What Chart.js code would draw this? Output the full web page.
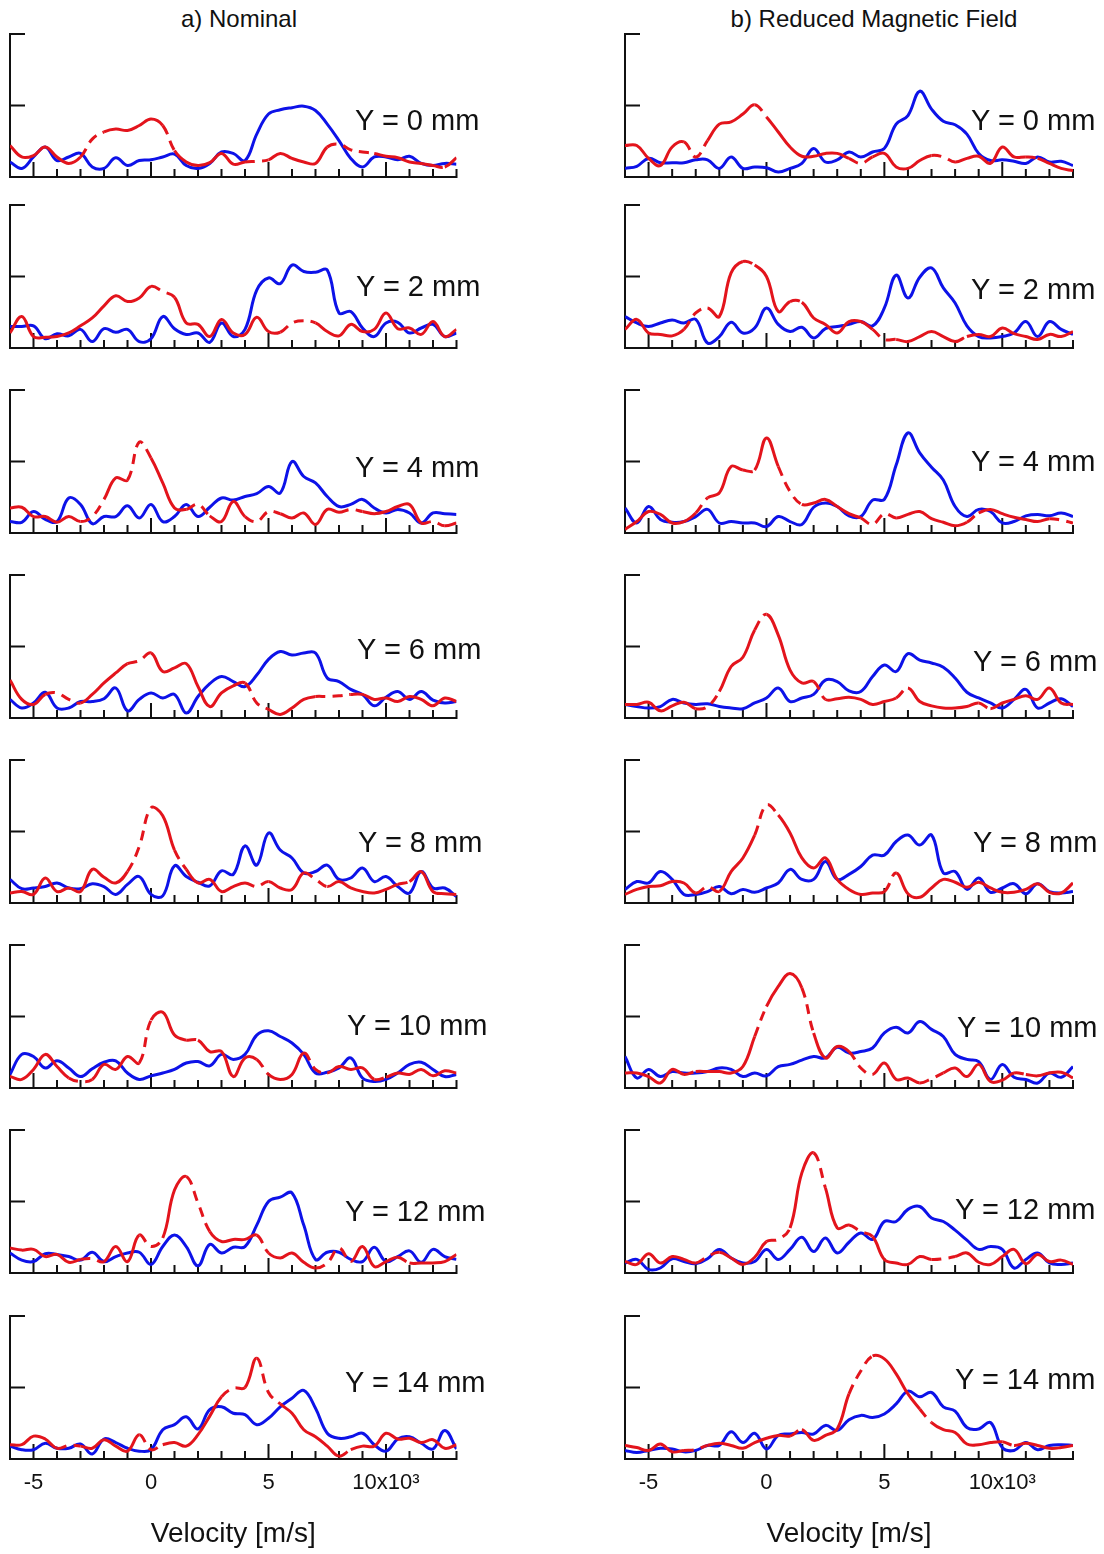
<!DOCTYPE html>
<html>
<head>
<meta charset="utf-8">
<script src="https://cdn.jsdelivr.net/npm/chart.js@4.4.1/dist/chart.umd.min.js"></script>
<style>
  html, body { margin: 0; padding: 0; background: #fff; }
  body { position: relative; width: 1104px; height: 1554px; overflow: hidden;
         font-family: "Liberation Sans", Arial, sans-serif; color: #111; }
  canvas { position: absolute; }
  .txt { position: absolute; white-space: nowrap; line-height: 1; transform: translateY(-50%); }
  .head { font-size: 24px; transform: translate(-50%, -50%); }
  .ylab { font-size: 29px; }
</style>
</head>
<body>
<script>
// Velocity grid (x10^3 m/s)
const velocity = [-6, -5.5, -5, -4.5, -4, -3.5, -3, -2.5, -2, -1.5, -1, -0.5, 0, 0.5, 1, 1.5, 2, 2.5, 3, 3.5,
                  4, 4.5, 5, 5.5, 6, 6.5, 7, 7.5, 8, 8.5, 9, 9.5, 10, 10.5, 11, 11.5, 12, 12.5, 13];
const tickValues = [-5, 0, 5, 10];
const tickLabels = ['-5', '0', '5', '10x10\u00B3'];
const positionsMm = [0, 2, 4, 6, 8, 10, 12, 14];

// a) Nominal
const nominalBlue0 = [.21,.12,.28,.42,.23,.28,.33,.14,.12,.27,.16,.23,.24,.28,.32,.16,.12,.19,.35,.33,.23,.60,.88,.94,.97,.99,.93,.74,.51,.26,.14,.28,.28,.24,.29,.19,.16,.19,.18];
const nominalRed0  = [.44,.28,.30,.42,.28,.19,.28,.53,.63,.67,.65,.72,.81,.72,.37,.21,.16,.20,.33,.18,.21,.22,.24,.33,.26,.21,.19,.42,.46,.38,.35,.33,.29,.27,.21,.19,.16,.14,.27];
const nominalBlue2 = [.30,.30,.31,.13,.20,.17,.26,.09,.27,.22,.26,.09,.13,.44,.27,.19,.21,.08,.35,.16,.26,.81,.98,.90,1.16,1.07,1.06,1.09,.49,.51,.28,.16,.35,.36,.21,.28,.33,.16,.21];
const nominalRed2  = [.21,.44,.16,.15,.16,.21,.31,.42,.59,.73,.65,.70,.86,.79,.71,.35,.33,.16,.40,.21,.19,.43,.23,.22,.35,.38,.35,.23,.17,.33,.23,.26,.49,.27,.28,.19,.37,.16,.26];
const nominalBlue4 = [.16,.15,.30,.19,.16,.49,.40,.13,.23,.23,.38,.21,.40,.16,.23,.40,.23,.36,.49,.46,.51,.55,.65,.56,1.00,.79,.70,.51,.37,.40,.47,.35,.28,.33,.28,.14,.28,.27,.26];
const nominalRed4  = [.35,.36,.23,.23,.15,.23,.16,.23,.47,.77,.74,1.27,1.05,.70,.35,.33,.40,.24,.16,.44,.23,.16,.30,.27,.21,.28,.12,.33,.29,.33,.30,.27,.30,.37,.40,.14,.16,.10,.14];
const nominalBlue6 = [.26,.14,.21,.36,.14,.14,.23,.23,.27,.42,.10,.26,.35,.28,.33,.07,.30,.48,.58,.51,.44,.60,.82,.93,.88,.91,.91,.56,.51,.40,.33,.17,.29,.37,.26,.37,.25,.21,.23];
const nominalRed6  = [.53,.26,.19,.33,.35,.26,.21,.33,.49,.63,.76,.80,.91,.65,.70,.76,.44,.16,.35,.45,.49,.21,.12,.05,.14,.26,.30,.30,.31,.33,.33,.26,.28,.23,.30,.26,.17,.28,.23];
const nominalBlue8 = [.33,.20,.21,.23,.28,.21,.20,.27,.23,.12,.26,.37,.12,.10,.52,.37,.29,.24,.45,.40,.80,.53,.98,.74,.63,.42,.44,.53,.33,.35,.49,.30,.37,.23,.14,.44,.21,.21,.09];
const nominalRed8  = [.14,.16,.12,.35,.16,.21,.16,.47,.36,.28,.44,.79,1.33,1.22,.74,.47,.28,.33,.16,.23,.28,.23,.30,.21,.19,.42,.33,.23,.30,.21,.16,.14,.19,.26,.30,.44,.16,.13,.12];
const nominalBlue10 = [.19,.47,.44,.28,.38,.28,.16,.27,.36,.38,.21,.12,.17,.21,.26,.35,.37,.31,.47,.40,.47,.74,.80,.72,.63,.47,.21,.22,.28,.42,.14,.09,.12,.21,.33,.36,.26,.16,.19];
const nominalRed10  = [.16,.12,.26,.47,.30,.14,.09,.12,.33,.26,.44,.35,.95,1.06,.74,.67,.67,.51,.51,.16,.42,.40,.19,.12,.19,.49,.26,.21,.30,.26,.28,.12,.15,.21,.19,.26,.17,.24,.21];
const nominalBlue12 = [.28,.18,.16,.27,.26,.23,.18,.29,.16,.23,.28,.29,.12,.37,.53,.37,.10,.40,.28,.36,.37,.67,1.00,1.06,1.12,.67,.19,.29,.29,.19,.16,.36,.16,.23,.31,.15,.33,.23,.19];
const nominalRed12  = [.35,.32,.33,.23,.26,.15,.19,.20,.16,.37,.16,.53,.37,.49,1.16,1.35,.98,.58,.44,.47,.47,.53,.28,.21,.28,.15,.07,.14,.35,.16,.37,.09,.16,.22,.14,.14,.14,.16,.26];
const nominalBlue14 = [.18,.13,.13,.22,.15,.15,.21,.07,.28,.23,.15,.11,.13,.41,.48,.59,.42,.69,.73,.64,.62,.48,.57,.73,.85,.96,.71,.36,.29,.31,.36,.20,.11,.28,.31,.22,.14,.40,.14];
const nominalRed14  = [.20,.20,.32,.28,.15,.19,.18,.15,.27,.18,.11,.34,.13,.20,.23,.18,.34,.60,.87,.99,1.00,1.41,.93,.77,.64,.41,.31,.18,.04,.13,.18,.18,.36,.28,.29,.23,.27,.15,.20];

// b) Reduced magnetic field
const reducedBlue0 = [.12,.15,.26,.20,.20,.20,.24,.24,.12,.28,.12,.14,.13,.07,.12,.19,.40,.21,.24,.35,.28,.35,.40,.74,.86,1.20,.95,.78,.73,.60,.33,.23,.24,.22,.19,.28,.21,.22,.16];
const reducedRed0  = [.44,.44,.26,.16,.42,.49,.28,.51,.74,.77,.88,1.01,.84,.63,.42,.29,.29,.33,.33,.26,.19,.28,.33,.14,.12,.23,.30,.28,.21,.26,.29,.19,.42,.28,.28,.26,.19,.12,.09];
const reducedBlue2 = [.44,.35,.30,.35,.39,.35,.40,.07,.16,.36,.21,.28,.56,.33,.23,.29,.14,.27,.30,.33,.37,.31,.56,1.02,.70,.99,1.12,.84,.63,.31,.16,.14,.16,.21,.37,.16,.37,.26,.19];
const reducedRed2  = [.26,.40,.21,.19,.17,.26,.49,.56,.44,1.05,1.21,1.16,1.00,.51,.65,.64,.42,.33,.21,.37,.37,.26,.12,.12,.09,.16,.23,.16,.09,.16,.19,.16,.28,.20,.16,.12,.19,.16,.23];
const reducedBlue4 = [.35,.14,.37,.19,.15,.16,.23,.33,.14,.16,.14,.14,.09,.23,.16,.12,.36,.42,.37,.24,.23,.46,.47,.95,1.40,1.12,.92,.74,.37,.23,.33,.30,.14,.16,.24,.26,.24,.28,.23];
const reducedRed4  = [.05,.16,.30,.26,.14,.16,.28,.49,.56,.93,.88,.88,1.33,.93,.58,.40,.42,.47,.37,.27,.21,.12,.27,.21,.26,.30,.20,.15,.10,.15,.28,.33,.27,.22,.19,.16,.20,.18,.14];
const reducedBlue6 = [.19,.16,.14,.16,.26,.21,.19,.20,.16,.14,.13,.21,.28,.42,.23,.28,.33,.53,.51,.38,.37,.58,.74,.65,.90,.81,.77,.71,.56,.36,.28,.21,.14,.26,.40,.14,.21,.27,.16];
const reducedRed6  = [.19,.19,.22,.10,.17,.22,.13,.16,.37,.72,.85,1.23,1.45,1.16,.67,.49,.51,.26,.27,.29,.26,.19,.23,.28,.42,.23,.17,.14,.14,.16,.21,.13,.21,.26,.31,.26,.42,.21,.19];
const reducedBlue8 = [.19,.30,.28,.44,.33,.12,.12,.16,.23,.13,.19,.15,.21,.28,.47,.33,.33,.58,.33,.40,.51,.67,.67,.86,.95,.81,.95,.42,.44,.19,.35,.15,.21,.27,.13,.27,.16,.14,.16];
const reducedRed8  = [.12,.19,.23,.24,.30,.28,.14,.23,.16,.44,.63,.95,1.37,1.23,.98,.63,.49,.63,.33,.19,.12,.14,.16,.42,.13,.08,.21,.33,.29,.22,.29,.21,.15,.15,.19,.27,.15,.14,.28];
const reducedBlue10 = [.44,.14,.26,.16,.23,.21,.21,.23,.28,.26,.16,.21,.17,.30,.33,.39,.44,.42,.57,.49,.51,.56,.77,.85,.77,.93,.82,.72,.47,.40,.37,.12,.33,.15,.12,.07,.21,.15,.30];
const reducedRed10  = [.21,.21,.16,.07,.26,.19,.23,.23,.23,.21,.30,.72,1.14,1.42,1.60,1.40,.77,.42,.58,.51,.28,.19,.35,.12,.14,.07,.13,.21,.28,.16,.33,.09,.11,.21,.19,.17,.21,.22,.14];
const reducedBlue12 = [.14,.19,.05,.07,.20,.16,.13,.20,.33,.21,.14,.16,.33,.19,.33,.50,.30,.49,.28,.43,.56,.47,.72,.72,.89,.93,.77,.72,.60,.46,.33,.37,.33,.07,.19,.28,.14,.12,.14];
const reducedRed12  = [.16,.12,.27,.14,.23,.19,.14,.23,.29,.21,.12,.22,.44,.47,.63,1.40,1.68,1.19,.63,.67,.58,.51,.19,.14,.12,.23,.19,.20,.23,.28,.15,.12,.23,.33,.13,.26,.16,.18,.12];
const reducedBlue14 = [.12,.09,.12,.15,.14,.10,.12,.19,.19,.38,.23,.36,.14,.33,.35,.37,.35,.47,.40,.55,.61,.58,.63,.77,.95,.87,.93,.73,.67,.44,.42,.51,.16,.12,.23,.13,.19,.20,.19];
const reducedRed14  = [.19,.16,.12,.21,.10,.12,.13,.19,.22,.19,.15,.23,.29,.33,.32,.41,.26,.33,.42,.91,1.23,1.44,1.40,1.19,.91,.70,.51,.41,.37,.21,.20,.23,.24,.19,.22,.19,.15,.16,.19];

// Velocity intervals where the red trace is interrupted
const nominalRedBreaks = [
  [[-3.0,-2.2],[0.5,1.0],[4.1,4.8],[7.6,9.7],[11.9,12.4]],
  [[0.0,1.0],[5.5,6.8]],
  [[-3.0,-2.2],[-0.75,-0.3],[1.5,2.4],[4.1,5.35],[8.2,8.9],[11.6,12.4]],
  [[-4.3,-3.2],[-0.9,-0.2],[4.1,4.9],[7.2,8.6]],
  [[-0.9,-0.3],[0.95,1.5],[4.1,4.9],[6.6,7.2],[10.3,10.9]],
  [[-3.4,-2.6],[-0.5,0],[1.5,2.1],[4.35,4.9],[6.8,7.2],[9.6,10.2]],
  [[-2.95,-2.3],[-0.3,0.25],[1.65,2.4],[4.35,4.9],[7.2,8.6],[10.6,11.2]],
  [[-3.7,-3.2],[-0.2,0.5],[2.9,3.8],[4.8,5.35],[7.9,8.6]]
];
const reducedRedBreaks = [
  [[-3.4,-2.5],[-0.4,0.15],[3.4,4.25],[6.9,7.9],[11.0,11.7]],
  [[-3.25,-2.8],[-1.1,-0.7],[1.0,1.7],[4.8,5.4],[7.9,8.3]],
  [[-3.1,-2.7],[-1.0,-0.4],[0.6,1.4],[4.25,5.2],[8.5,9.1],[12.2,13]],
  [[-3.0,-1.8],[-0.55,0.15],[2.0,2.55],[5.4,6.1],[8.8,9.3]],
  [[-2.96,-2.1],[-0.55,0.3],[4.96,5.66]],
  [[-3.4,-3.0],[-0.55,0.0],[1.4,2.0],[3.7,4.25],[6.8,7.2],[10.3,10.75]],
  [[-2.96,-2.25],[0.3,1.14],[2.0,2.55],[3.7,4.25],[7.1,7.9],[11.3,11.7]],
  [[-3.4,-2.8],[0.85,1.7],[3.7,4.25],[6.4,7.1],[9.9,10.3]]
];

const nominalBlue = [nominalBlue0, nominalBlue2, nominalBlue4, nominalBlue6, nominalBlue8, nominalBlue10, nominalBlue12, nominalBlue14];
const nominalRed  = [nominalRed0, nominalRed2, nominalRed4, nominalRed6, nominalRed8, nominalRed10, nominalRed12, nominalRed14];
const reducedBlue = [reducedBlue0, reducedBlue2, reducedBlue4, reducedBlue6, reducedBlue8, reducedBlue10, reducedBlue12, reducedBlue14];
const reducedRed  = [reducedRed0, reducedRed2, reducedRed4, reducedRed6, reducedRed8, reducedRed10, reducedRed12, reducedRed14];

// ---- layout ----
const FONT = '"Liberation Sans", Arial, sans-serif';
const BLUE = '#0d12e8';
const RED = '#e3141c';
const INK = '#111';
const panelBottoms = [177, 348, 533, 718, 903, 1088, 1273, 1459];
const PANEL_H = 143;
const columns = [
  { left: 0, width: 475, padL: 10, padR: 18.5, title: 'a) Nominal', titleX: 239,
    blue: nominalBlue, red: nominalRed, breaks: nominalRedBreaks,
    labX: [355, 356, 355, 357, 358, 347, 345, 345],
    labY: [120, 286, 467, 649, 842, 1025, 1211, 1382] },
  { left: 600, width: 490, padL: 25, padR: 17, title: 'b) Reduced Magnetic Field', titleX: 874,
    blue: reducedBlue, red: reducedRed, breaks: reducedRedBreaks,
    labX: [971, 971, 971, 973, 973, 957, 955, 955],
    labY: [120, 289, 461, 661, 842, 1027, 1209, 1379] }
];

function addText(cls, text, x, y) {
  const d = document.createElement('div');
  d.className = 'txt ' + cls;
  d.textContent = text;
  d.style.left = x + 'px';
  d.style.top = y + 'px';
  document.body.appendChild(d);
}

// Axis frame: left axis with inward ticks, bottom axis with upward ticks
const frame = {
  id: 'frame',
  beforeDatasetsDraw(chart) {
    const { ctx, chartArea: a, scales: { x, y } } = chart;
    ctx.save();
    ctx.strokeStyle = INK;
    ctx.lineWidth = 2;
    ctx.beginPath();
    const top = y.getPixelForValue(2);
    ctx.moveTo(a.left, top - 1);
    ctx.lineTo(a.left, a.bottom + 1);
    [1, 2].forEach(v => {
      const py = y.getPixelForValue(v);
      ctx.moveTo(a.left, py);
      ctx.lineTo(a.left + 15, py);
    });
    ctx.moveTo(a.left - 1, a.bottom);
    ctx.lineTo(a.right + 1, a.bottom);
    for (let v = Math.ceil(x.min); v <= x.max; v++) {
      const px = x.getPixelForValue(v);
      const len = tickValues.includes(v) ? 15 : 8;
      ctx.moveTo(px, a.bottom);
      ctx.lineTo(px, a.bottom - len);
    }
    ctx.stroke();
    ctx.restore();
  }
};

function interrupted(ranges) {
  return ctx => {
    const x0 = ctx.p0.parsed.x, x1 = ctx.p1.parsed.x;
    for (const [a, b] of ranges) {
      const ov = Math.min(x1, b) - Math.max(x0, a);
      if (ov >= 0.2) return [10, 7];
    }
    return undefined;
  };
}

columns.forEach((col) => {
  addText('head', col.title, col.titleX, 19);
  positionsMm.forEach((mm, ri) => {
    const isBottom = ri === positionsMm.length - 1;
    const bottom = panelBottoms[ri];
    const top = bottom - PANEL_H;
    const cTop = top - 8;
    const cH = isBottom ? 1554 - cTop : PANEL_H + 16;
    const cv = document.createElement('canvas');
    cv.width = col.width; cv.height = cH;
    cv.style.left = col.left + 'px'; cv.style.top = cTop + 'px';
    cv.style.width = col.width + 'px'; cv.style.height = cH + 'px';
    document.body.appendChild(cv);

    const xScale = {
      type: 'linear', min: -6, max: 13, display: isBottom,
      grid: { display: false, drawTicks: false },
      border: { display: false },
      ticks: { padding: 11, color: INK, autoSkip: false, maxRotation: 0,
               font: { family: FONT, size: 22 },
               callback: v => tickLabels[tickValues.indexOf(v)] },
      title: { display: true, text: 'Velocity [m/s]', color: INK,
               font: { family: FONT, size: 28 }, padding: { top: 0, bottom: 3 } }
    };
    if (isBottom) {
      xScale.afterBuildTicks = s => { s.ticks = tickValues.map(v => ({ value: v })); };
      xScale.afterFit = s => { s.height = 95; };
    }

    new Chart(cv, {
      type: 'line',
      data: {
        labels: velocity,
        datasets: [
          { label: 'red', data: col.red[ri], borderColor: RED, borderWidth: 3, pointRadius: 0,
            tension: 0.4, fill: false, segment: { borderDash: interrupted(col.breaks[ri]) } },
          { label: 'blue', data: col.blue[ri], borderColor: BLUE, borderWidth: 3, pointRadius: 0,
            tension: 0.4, fill: false }
        ]
      },
      options: {
        responsive: false, animation: false, devicePixelRatio: 1,
        layout: { padding: { left: col.padL, right: col.padR, top: 8, bottom: isBottom ? 0 : 8 } },
        plugins: { legend: { display: false }, tooltip: { enabled: false } },
        scales: {
          x: xScale,
          y: { type: 'linear', min: 0, max: 2, display: false }
        }
      },
      plugins: [frame]
    });

    addText('ylab', 'Y = ' + mm + ' mm', col.labX[ri], col.labY[ri]);
  });
});
</script>
</body>
</html>
